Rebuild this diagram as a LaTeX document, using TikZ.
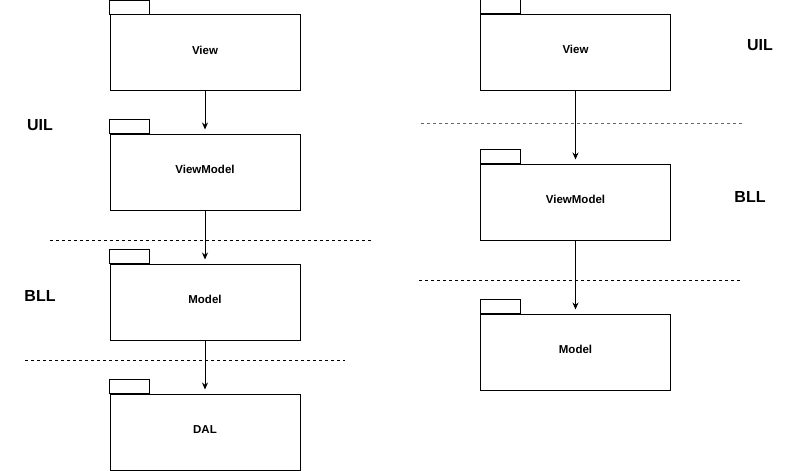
\documentclass[tikz,border=0pt]{standalone}
\usepackage{fontspec}
\setmainfont{Liberation Sans}
\usetikzlibrary{arrows.meta,positioning}

\begin{document}
\begin{tikzpicture}[x=1pt,y=-1pt,
    pkg/.style={rectangle,draw,line width=1pt,minimum width=190pt,minimum height=76pt,inner sep=0pt,
        text height=8.3pt,text depth=4.8pt,font=\bfseries\fontsize{11.5}{13}\selectfont},
    layer/.style={font=\bfseries\fontsize{16}{19}\selectfont},
    sep/.style={line width=0.8pt,dash pattern=on 3pt off 3pt},
    arrow/.style={-{Stealth[length=7pt,width=6pt]},line width=1pt,shorten >=4pt}
]
\useasboundingbox (0,0) rectangle (801,471);

% === LEFT STACK ===
\node[pkg] (view) at (205,52.5) {View};
\node[pkg] (viewmodel) at (205,172) {ViewModel};
\node[pkg] (model) at (205,302) {Model};
\node[pkg] (dal) at (205,432) {DAL};
% tabs
\foreach \p in {view,viewmodel,model,dal}
    \draw[line width=1pt] (\p.north west) rectangle ++(40,-14);

% layer labels
\node[layer] (uil) at (40,125) {UIL};
\node[layer] (bll) at (40,296) {BLL};

% separators
\draw[sep] (50,240) -- (372,240);
\draw[sep] (25,360) -- (345,360);

% arrows
\draw[arrow] (view) -- (viewmodel);
\draw[arrow] (viewmodel) -- (model);
\draw[arrow] (model) -- (dal);

% === RIGHT STACK ===
\node[pkg] (rview) at (575.5,52) {View};
\node[pkg] (rviewmodel) at (575.5,202) {ViewModel};
\node[pkg] (rmodel) at (575.5,352) {Model};
% tabs
\foreach \p in {rview,rviewmodel,rmodel}
    \draw[line width=1pt] (\p.north west) rectangle ++(40,-14);

% layer labels
\node[layer] (ruil) at (760,45) {UIL};
\node[layer] (rbll) at (750,197) {BLL};

% separators
\draw[sep,black!60] (421,123) -- (742,123);
\draw[sep] (419,280) -- (740,280);

% arrows
\draw[arrow] (rview) -- (rviewmodel);
\draw[arrow] (rviewmodel) -- (rmodel);

\end{tikzpicture}
\end{document}
